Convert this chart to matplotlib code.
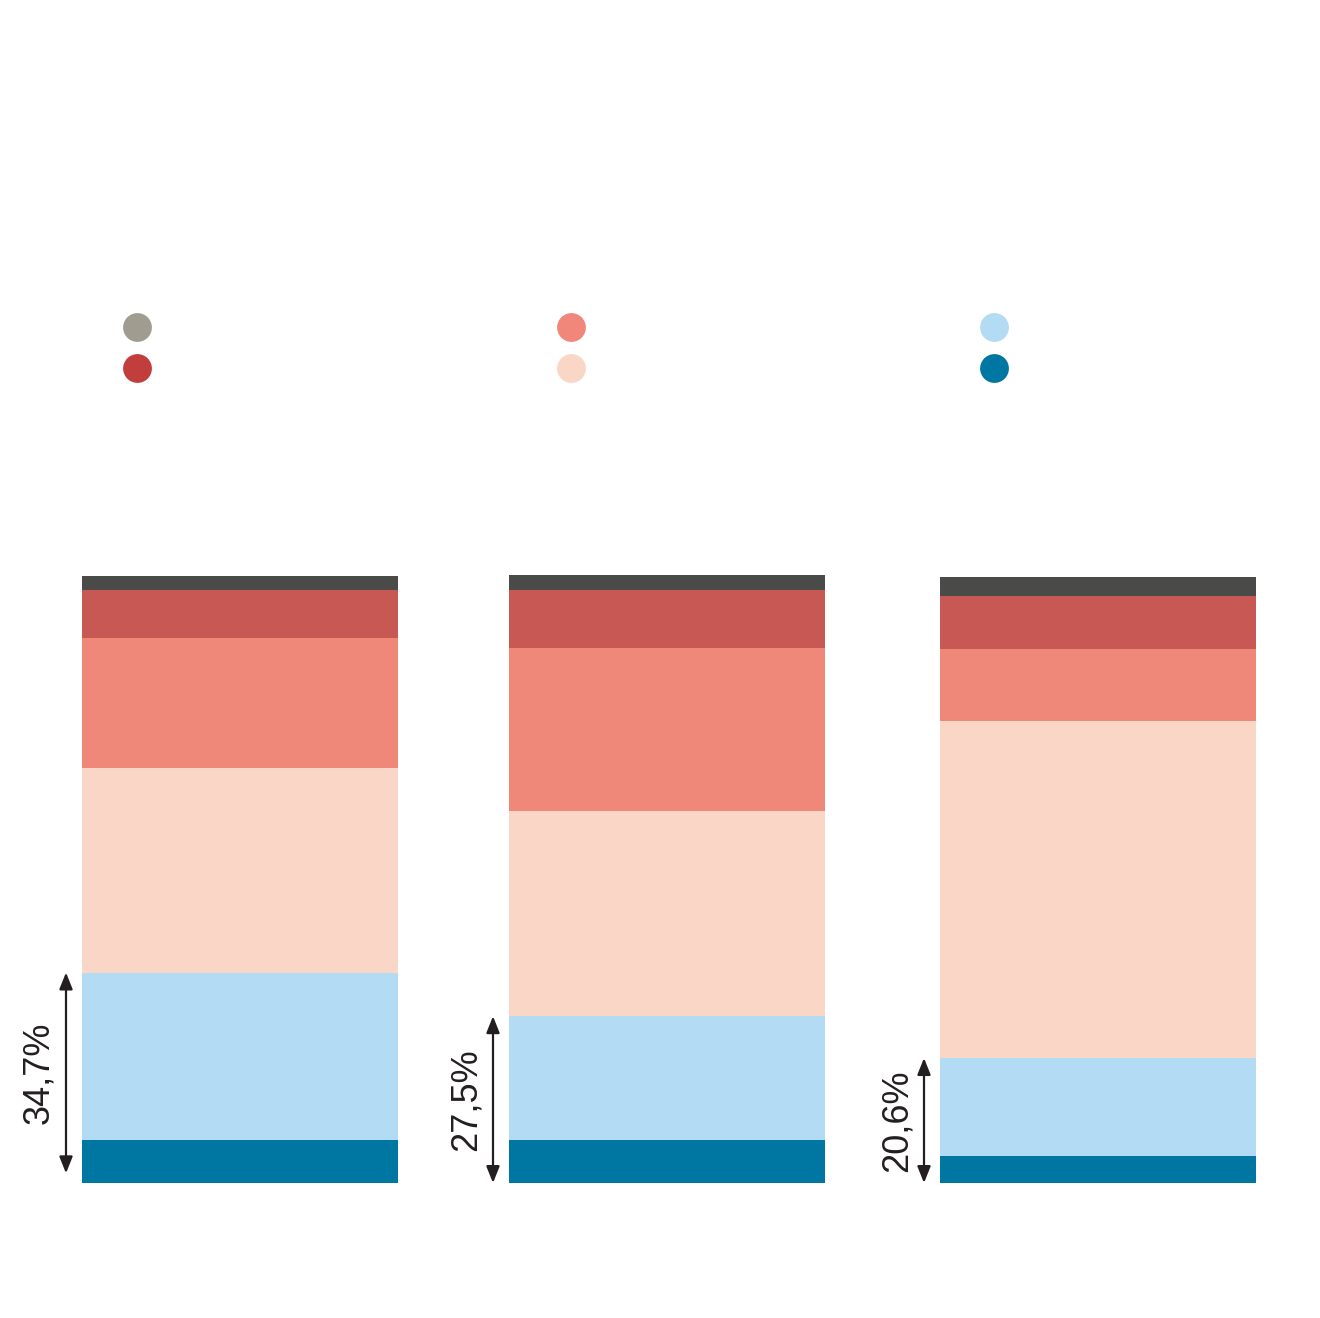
import matplotlib
matplotlib.use("Agg")
import matplotlib.pyplot as plt

# shares per bar, bottom to top (percent)
dark_blue = [7.1, 7.1, 4.4]
light_blue = [27.6, 20.4, 16.2]
peach = [33.7, 33.9, 55.5]
salmon = [21.5, 26.8, 11.9]
red = [7.9, 9.5, 8.8]
dark_gray = [2.2, 2.6, 3.2]

bracket_labels = ["34,7%", "27,5%", "20,6%"]

seg_colors = ["#0077A3", "#B3DBF3", "#F9D6C5", "#F0887A", "#C85853", "#4A4A48"]
legend_colors = [["#A09C90", "#C23E3C"], ["#F0877A", "#F9D6C5"], ["#B3DBF3", "#0077A3"]]

W, H = 1320, 1318
fig = plt.figure(figsize=(W / 100, H / 100), dpi=100)
ax = fig.add_axes([0, 0, 1, 1])
px = 606.5 / 100  # pixels per percent
base = 135
ax.set_xlim(0, W)
ax.set_ylim(-base / px, (H - base) / px)
ax.axis("off")

centers = [240, 667, 1098]
width = 316

series = [dark_blue, light_blue, peach, salmon, red, dark_gray]
bottoms = [0, 0, 0]
for vals, col in zip(series, seg_colors):
    ax.bar(centers, vals, width=width, bottom=bottoms, color=col, linewidth=0)
    bottoms = [b + v for b, v in zip(bottoms, vals)]

# bracket arrows over the two blue segments
arrow_base = [1.6, 0, 0]
for i, c in enumerate(centers):
    top = dark_blue[i] + light_blue[i]
    x = c - width / 2 - 16
    ax.annotate("", xy=(x, top), xytext=(x, arrow_base[i]),
                arrowprops=dict(arrowstyle="<|-|>,head_length=1.0,head_width=0.4",
                                lw=1.6, color="#231F20", shrinkA=0, shrinkB=0))
    ax.text(x - 27, (top + arrow_base[i]) / 2, bracket_labels[i], rotation=90,
            ha="center", va="center", fontsize=26, color="#231F20",
            family="Liberation Sans")

# legend dots (labels absent in the source)
dot_x = [137, 571, 994]
dot_y = [327, 368]
for j, xx in enumerate(dot_x):
    for k, yy in enumerate(dot_y):
        ax.scatter([xx / W], [1 - yy / H], s=430, color=legend_colors[j][k],
                   transform=fig.transFigure, clip_on=False, linewidths=0)

fig.savefig("out.png", dpi=100, facecolor="white")
